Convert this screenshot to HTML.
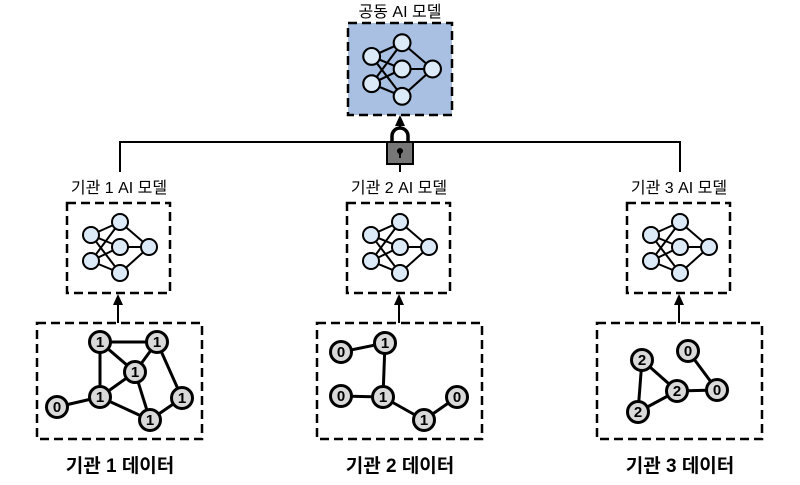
<!DOCTYPE html>
<html><head><meta charset="utf-8"><style>
body{margin:0;background:#fff}
svg text{font-family:"Liberation Sans","Noto Sans CJK KR",sans-serif}
</style></head><body>
<svg width="800" height="480" viewBox="0 0 800 480" xmlns="http://www.w3.org/2000/svg">
<defs>
<marker id="ar" markerWidth="6" markerHeight="6" refX="3" refY="3" orient="auto"><path d="M0,0.5 L5.5,3 L0,5.5 z" fill="#000"/></marker>
<g id="nn" stroke="#000" stroke-width="2">
<g fill="none">
<line x1="-27" y1="-12" x2="2" y2="-25"/><line x1="-27" y1="-12" x2="2" y2="0"/><line x1="-27" y1="-12" x2="2" y2="26"/>
<line x1="-27" y1="14" x2="2" y2="-25"/><line x1="-27" y1="14" x2="2" y2="0"/><line x1="-27" y1="14" x2="2" y2="26"/>
<line x1="2" y1="-25" x2="31" y2="0"/><line x1="2" y1="0" x2="31" y2="0"/><line x1="2" y1="26" x2="31" y2="0"/>
</g>
<g fill="#dce9f7">
<circle cx="-27" cy="-12" r="8"/><circle cx="-27" cy="14" r="8"/>
<circle cx="2" cy="-25" r="8"/><circle cx="2" cy="0" r="8"/><circle cx="2" cy="26" r="8"/>
<circle cx="31" cy="0" r="8"/>
</g>
</g>
</defs>
<g font-size="16" text-anchor="middle" fill="#000">
<text x="400" y="17">공동 AI 모델</text>
<text x="119" y="193">기관 1 AI 모델</text>
<text x="399" y="193">기관 2 AI 모델</text>
<text x="679" y="193">기관 3 AI 모델</text>
</g>
<g font-size="19" font-weight="bold" text-anchor="middle" fill="#000">
<text x="120" y="472">기관 1 데이터</text>
<text x="400" y="472">기관 2 데이터</text>
<text x="680" y="472">기관 3 데이터</text>
</g>
<rect x="348" y="23" width="104" height="92" fill="#a9c0e2" stroke="#000" stroke-width="2.5" stroke-dasharray="9,5"/>
<g transform="translate(400,69) scale(1.05)"><use href="#nn"/></g>
<g stroke="#000" stroke-width="2" fill="none">
<polyline points="120,172 120,142 680,142 680,172"/>
<line x1="400" y1="142" x2="400" y2="172"/>
<line x1="400" y1="127" x2="400" y2="120" marker-end="url(#ar)"/>
<line x1="118" y1="323" x2="118" y2="299" marker-end="url(#ar)"/>
<line x1="399" y1="323" x2="399" y2="299" marker-end="url(#ar)"/>
<line x1="679" y1="323" x2="679" y2="299" marker-end="url(#ar)"/>
</g>
<path d="M392,143 V136 a8,8 0 0 1 16,0 V143" fill="none" stroke="#000" stroke-width="3.5"/>
<rect x="387" y="142" width="26" height="22" fill="#777" stroke="#000" stroke-width="2"/>
<circle cx="400" cy="151" r="3" fill="#000"/><rect x="399" y="151" width="2" height="7" fill="#000"/>
<g fill="none" stroke="#000" stroke-width="2.5" stroke-dasharray="9,5">
<rect x="67" y="203" width="103" height="90"/>
<rect x="347" y="203" width="103" height="90"/>
<rect x="627" y="203" width="103" height="90"/>
<rect x="37" y="323" width="165" height="116"/>
<rect x="317" y="323" width="165" height="116"/>
<rect x="597" y="323" width="165" height="116"/>
</g>
<use href="#nn" x="118" y="247"/>
<use href="#nn" x="398" y="247"/>
<use href="#nn" x="678" y="247"/>
<g stroke="#000" stroke-width="3">
<line x1="100" y1="342" x2="157" y2="342"/><line x1="100" y1="342" x2="100" y2="397"/><line x1="100" y1="342" x2="135" y2="372"/>
<line x1="157" y1="342" x2="135" y2="372"/><line x1="157" y1="342" x2="182" y2="398"/><line x1="135" y1="372" x2="100" y2="397"/>
<line x1="135" y1="372" x2="150" y2="420"/><line x1="100" y1="397" x2="57" y2="407"/><line x1="100" y1="397" x2="150" y2="420"/><line x1="182" y1="398" x2="150" y2="420"/>
<line x1="341" y1="352" x2="385" y2="343"/><line x1="385" y1="343" x2="383" y2="397"/><line x1="341" y1="396" x2="383" y2="397"/><line x1="383" y1="397" x2="424" y2="420"/><line x1="424" y1="420" x2="457" y2="397"/>
<line x1="642" y1="360" x2="677" y2="391"/><line x1="642" y1="360" x2="638" y2="412"/><line x1="677" y1="391" x2="638" y2="412"/><line x1="677" y1="391" x2="717" y2="390"/><line x1="688" y1="351" x2="717" y2="390"/>
</g>
<g fill="#d9d9d9" stroke="#000" stroke-width="3">
<circle cx="100" cy="342" r="10.5"/><circle cx="157" cy="342" r="10.5"/><circle cx="135" cy="372" r="10.5"/><circle cx="100" cy="397" r="10.5"/><circle cx="57" cy="407" r="10.5"/><circle cx="182" cy="398" r="10.5"/><circle cx="150" cy="420" r="10.5"/>
<circle cx="341" cy="352" r="10.5"/><circle cx="385" cy="343" r="10.5"/><circle cx="341" cy="396" r="10.5"/><circle cx="383" cy="397" r="10.5"/><circle cx="424" cy="420" r="10.5"/><circle cx="457" cy="397" r="10.5"/>
<circle cx="642" cy="360" r="10.5"/><circle cx="688" cy="351" r="10.5"/><circle cx="677" cy="391" r="10.5"/><circle cx="717" cy="390" r="10.5"/><circle cx="638" cy="412" r="10.5"/>
</g>
<g font-size="15" font-weight="bold" text-anchor="middle" fill="#000">
<text x="100" y="347">1</text><text x="157" y="347">1</text><text x="135" y="377">1</text><text x="100" y="402">1</text><text x="57" y="412">0</text><text x="182" y="403">1</text><text x="150" y="425">1</text>
<text x="341" y="357">0</text><text x="385" y="348">1</text><text x="341" y="401">0</text><text x="383" y="402">1</text><text x="424" y="425">1</text><text x="457" y="402">0</text>
<text x="642" y="365">2</text><text x="688" y="356">0</text><text x="677" y="396">2</text><text x="717" y="395">0</text><text x="638" y="417">2</text>
</g>
</svg>
</body></html>
